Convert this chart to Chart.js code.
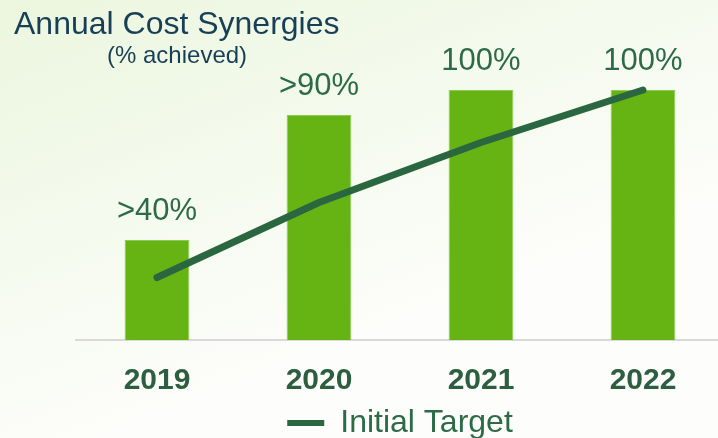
<!DOCTYPE html>
<html>
<head>
<meta charset="utf-8">
<script src="https://cdn.jsdelivr.net/npm/chart.js@4/dist/chart.umd.min.js"></script>
<style>
  html, body { margin: 0; padding: 0; overflow: hidden; background: #ffffff; }
  #wrap { width: 724px; height: 438px; position: relative; }
</style>
</head>
<body>
<div id="wrap"><canvas id="synergies"></canvas></div>
<script>
// chart data
var years = ['2019', '2020', '2021', '2022'];
var achieved = [40, 90, 100, 100];
var achievedLabels = ['>40%', '>90%', '100%', '100%'];
var initialTarget = [25, 55, 79, 100];

var barGreen = '#66b414';
var lineGreen = '#2a6741';
var textGreen = '#2d6b47';

// background wash + title / subtitle + value labels
var decor = {
    id: 'decor',
    beforeDraw: function (chart) {
        var c = chart.ctx;
        var g = c.createLinearGradient(0, 0, 160, 420);
        g.addColorStop(0, '#ebf6de');
        g.addColorStop(0.55, '#f5faee');
        g.addColorStop(1, '#fdfdfb');
        c.save();
        c.fillStyle = g;
        c.fillRect(0, 0, chart.width, chart.height);
        c.restore();
    },
    afterDatasetsDraw: function (chart) {
        var c = chart.ctx;
        c.save();
        c.textAlign = 'center';
        c.textBaseline = 'alphabetic';
        c.fillStyle = textGreen;
        c.font = '31px "Liberation Sans", Arial, sans-serif';
        chart.getDatasetMeta(1).data.forEach(function (bar, i) {
            c.fillText(achievedLabels[i], bar.x, bar.y - 20);
        });
        c.textAlign = 'left';
        c.fillStyle = '#173f56';
        c.font = '32px "Liberation Sans", Arial, sans-serif';
        c.fillText('Annual Cost Synergies', 14, 34);
        c.font = '24px "Liberation Sans", Arial, sans-serif';
        c.fillText('(% achieved)', 107, 63);
        c.restore();
    }
};

var ctx = document.getElementById('synergies').getContext('2d');
var chart = new Chart(ctx, {
    data: {
        labels: years,
        datasets: [{
            type: 'line',
            label: 'Initial Target',
            data: initialTarget,
            borderColor: lineGreen,
            backgroundColor: lineGreen,
            borderWidth: 7,
            borderCapStyle: 'round',
            borderJoinStyle: 'round',
            pointRadius: 0,
            tension: 0,
            clip: false,
            order: 0
        }, {
            type: 'bar',
            label: 'Achieved',
            data: achieved,
            backgroundColor: barGreen,
            borderColor: '#8ccb55',
            borderWidth: 1,
            barPercentage: 0.4,
            categoryPercentage: 1,
            order: 1
        }]
    },
    options: {
        responsive: true,
        maintainAspectRatio: false,
        animation: false,
        layout: {
            autoPadding: false,
            padding: { left: 76, right: 0, top: 90, bottom: -11 }
        },
        scales: {
            x: {
                grid: { display: false },
                border: { display: true, color: '#d9d9d9', width: 2 },
                ticks: {
                    color: '#2c5e3f',
                    padding: 18,
                    font: { family: '"Liberation Sans", Arial, sans-serif', size: 30, weight: 'bold', lineHeight: 1 }
                },
                afterFit: function (scale) {
                    scale.height = 67;
                }
            },
            y: {
                display: false,
                min: 0,
                max: 100
            }
        },
        plugins: {
            tooltip: { enabled: false },
            legend: {
                position: 'bottom',
                labels: {
                    boxWidth: 37,
                    boxHeight: 6,
                    padding: 0,
                    color: textGreen,
                    font: { family: '"Liberation Sans", Arial, sans-serif', size: 32 },
                    generateLabels: function (chart) {
                        return [{
                            text: 'Initial Target',
                            fillStyle: lineGreen,
                            strokeStyle: lineGreen,
                            lineWidth: 0,
                            fontColor: textGreen,
                            datasetIndex: 0
                        }];
                    }
                }
            }
        }
    },
    plugins: [decor]
});
</script>
</body>
</html>
